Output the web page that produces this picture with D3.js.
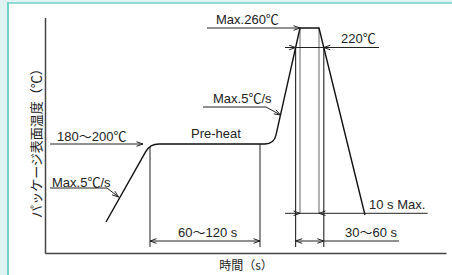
<!DOCTYPE html>
<html><head><meta charset="utf-8">
<script src="https://cdn.jsdelivr.net/npm/d3@7"></script>
<style>body{margin:0;background:#fff}svg{display:block}</style>
</head><body><script>
// Schematic reflow profile (units are schematic, not to scale)
const profileTime = [61, 105, 229, 255, 274, 320];
const profileTemp = [31, 109, 109, 225, 225, 38];
const profileRound = [0, 9, 9, 0, 0, 0];
const reflowLevel = 205.5;      // 220℃ level
const peakLevel = 225;          // 260℃ level
const labelTexts = ["Max.260℃", "220℃", "Max.5℃/s", "Pre-heat", "180〜200℃", "Max.5℃/s", "60〜120 s", "10 s Max.", "30〜60 s"];
const axisTitles = ["時間（s）", "パッケージ表面温度（℃）"];

const W = 452, H = 275;
const x = d3.scaleLinear([0, 401], [45, 446]);
const y = d3.scaleLinear([0, 235.5], [253, 17.5]);

const svg = d3.select("body").append("svg").attr("width", W).attr("height", H);
// frame
svg.append("rect").attr("width", W).attr("height", H).attr("fill", "#e0f3f3");
svg.append("rect").attr("x", 8).attr("y", 3).attr("width", W - 8).attr("height", H - 3).attr("fill", "#fff");
svg.append("line").attr("x1", 8).attr("x2", 8).attr("y1", 2.5).attr("y2", H).attr("stroke", "#72d1ca").attr("stroke-width", 2);
svg.append("line").attr("x1", 7).attr("x2", W).attr("y1", 3).attr("y2", 3).attr("stroke", "#72d1ca").attr("stroke-width", 1.5);

const ink = "#222";
const font = "'Liberation Sans', Arial, 'Noto Sans CJK JP', sans-serif";

// axes
svg.append("g").attr("transform", `translate(0,${y(0)})`)
  .call(d3.axisBottom(x).tickValues([]).tickSizeOuter(0));
svg.append("g").attr("transform", `translate(${x(0)},0)`)
  .call(d3.axisLeft(y).tickValues([]).tickSizeOuter(0));
svg.selectAll(".domain").attr("stroke", "#444").attr("stroke-width", 1.5);

const pts = profileTime.map((t, i) => [x(t), y(profileTemp[i]), profileRound[i]]);

function timeAt(i, T) {
  const t0 = profileTime[i], t1 = profileTime[i + 1], v0 = profileTemp[i], v1 = profileTemp[i + 1];
  return t0 + (t1 - t0) * (T - v0) / (v1 - v0);
}
const riseAt = T => timeAt(2, T);
const fallAt = T => timeAt(4, T);
const tCrossL = riseAt(reflowLevel), tCrossR = fallAt(reflowLevel);

function vline(t, v0, v1, color, w) {
  svg.append("line").attr("x1", x(t)).attr("x2", x(t)).attr("y1", y(v0)).attr("y2", y(v1))
    .attr("stroke", color).attr("stroke-width", w);
}
vline(profileTime[3], peakLevel, 39.7, "#8a8a8a", 1.3);
vline(profileTime[4], peakLevel, 39.7, "#8a8a8a", 1.3);
vline(tCrossL, reflowLevel, 6, ink, 1.1);
vline(tCrossR, reflowLevel, 6, ink, 1.1);
vline(profileTime[1], 106, 6, "#333", 1.1);
vline(215, profileTemp[2], 6, "#333", 1.1);

// profile curve with rounded corners
const p = d3.path();
p.moveTo(pts[0][0], pts[0][1]);
for (let i = 1; i < pts.length; i++) {
  const [px, py, r] = pts[i];
  if (r > 0 && i < pts.length - 1) {
    const [ax, ay] = pts[i - 1], [bx, by] = pts[i + 1];
    const la = Math.hypot(ax - px, ay - py), lb = Math.hypot(bx - px, by - py);
    p.lineTo(px + (ax - px) * r / la, py + (ay - py) * r / la);
    p.quadraticCurveTo(px, py, px + (bx - px) * r / lb, py + (by - py) * r / lb);
  } else p.lineTo(px, py);
}
svg.append("path").attr("d", p.toString()).attr("fill", "none").attr("stroke", "#111")
  .attr("stroke-width", 1.4).attr("stroke-linejoin", "miter");

function poly(points) {
  svg.append("path").attr("d", d3.line()(points.map(([t, v]) => [x(t), y(v)])))
    .attr("fill", "none").attr("stroke", ink).attr("stroke-width", 1);
}
function arrow(t, v, dx, dy) {
  const tx = x(t), ty = y(v), L = 6.5, Wd = 2.3;
  const n = Math.hypot(dx, dy), ux = dx / n, uy = dy / n;
  const bx = tx - ux * L, by = ty - uy * L;
  svg.append("path").attr("d", `M${bx - uy * Wd},${by + ux * Wd}L${tx},${ty}L${bx + uy * Wd},${by - ux * Wd}`)
    .attr("fill", "none").attr("stroke", ink).attr("stroke-width", 1);
}
function dir(a, b) { return [x(b[0]) - x(a[0]), y(b[1]) - y(a[1])]; }

poly([[162, peakLevel], [profileTime[3], peakLevel]]); arrow(profileTime[3], peakLevel, 1, 0);
poly([[240, reflowLevel], [334, reflowLevel]]);
arrow(tCrossL, reflowLevel, 1, 0); arrow(tCrossR, reflowLevel, -1, 0);
const r2 = [[158, 146], [221, 146], [riseAt(138), 138]];
poly(r2); arrow(...r2[2], ...dir(r2[1], r2[2]));
poly([[5, 109], [98, 109]]); arrow(98, 109, 1, 0);
const rampAt56 = timeAt(0, 56) - 1.5;
const r1 = [[5, 65], [62, 65], [rampAt56, 56]];
poly(r1); arrow(...r1[2], ...dir(r1[1], r1[2]));
poly([[profileTime[1], 12], [215, 12]]); arrow(profileTime[1], 12, -1, 0); arrow(215, 12, 1, 0);
poly([[240, 39.7], [382.7, 39.7]]); arrow(profileTime[3], 39.7, 1, 0); arrow(profileTime[4], 39.7, -1, 0);
poly([[tCrossL, 12], [354, 12]]); arrow(tCrossL, 12, -1, 0); arrow(tCrossR, 12, 1, 0);

const labelPos = [[171, 229], [296, 210], [168, 150.5], [146, 115], [12, 112.5], [7, 66.5], [133, 16.5], [324, 44], [300, 16.5]];
svg.selectAll("text.lbl").data(labelTexts).join("text").attr("class", "lbl")
  .attr("x", (d, i) => x(labelPos[i][0])).attr("y", (d, i) => y(labelPos[i][1]))
  .attr("font-family", font).attr("font-size", 13).attr("fill", ink).text(d => d);

svg.append("text").attr("x", x(201)).attr("y", 270).attr("text-anchor", "middle")
  .attr("font-family", "'Noto Sans CJK JP', sans-serif").attr("font-size", 12).attr("fill", ink).text(axisTitles[0]);
svg.append("text").attr("transform", `translate(41,${y(113)}) rotate(-90)`).attr("text-anchor", "middle")
  .attr("font-family", "'Noto Sans CJK JP', sans-serif").attr("font-size", 13).attr("fill", ink).text(axisTitles[1]);
</script></body></html>
